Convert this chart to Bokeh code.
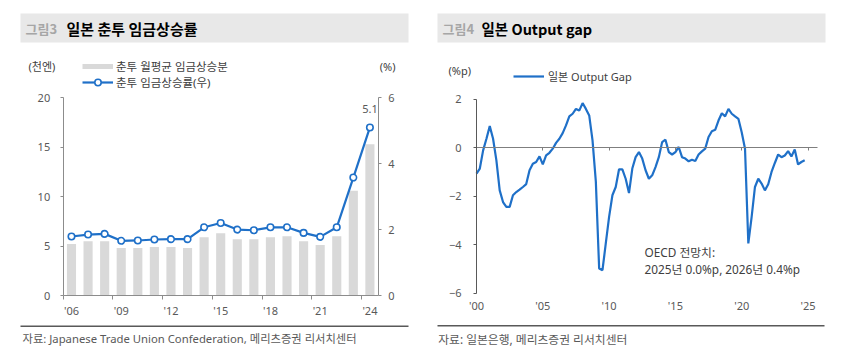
from bokeh.plotting import figure
from bokeh.models import (Range1d, LinearAxis, FixedTicker, Label, BoxAnnotation,
                          Legend, LegendItem, ColumnDataSource)
from bokeh.layouts import row
from bokeh.embed import file_html
from bokeh.resources import INLINE

FONT = "Noto Sans, Noto Sans CJK KR"
FONT_T = "Noto Sans CJK KR"
BLUE = "#1f70c8"
GRAY_BAR = "#d9d9d9"
AXIS = "#8c8c8c"
TXT = "#595959"
DARK = "#404040"

# ---------------- data: left chart (Shunto) ----------------
years = [2006, 2007, 2008, 2009, 2010, 2011, 2012, 2013, 2014, 2015,
         2016, 2017, 2018, 2019, 2020, 2021, 2022, 2023, 2024]
wage_gain = [5.2, 5.5, 5.5, 4.8, 4.8, 4.9, 4.9, 4.8, 5.9, 6.3,
             5.7, 5.7, 5.9, 6.0, 5.5, 5.1, 6.0, 10.6, 15.3]       # 천엔
wage_rate = [1.79, 1.85, 1.87, 1.66, 1.67, 1.70, 1.71, 1.71, 2.07, 2.20,
             2.00, 1.98, 2.07, 2.07, 1.90, 1.78, 2.07, 3.58, 5.10]  # %
left_x_ticks = [2006, 2009, 2012, 2015, 2018, 2021, 2024]
left_x_labels = ["'06", "'09", "'12", "'15", "'18", "'21", "'24"]
left_y_ticks = [0, 5, 10, 15, 20]
right_y_ticks = [0, 2, 4, 6]

# ---------------- data: right chart (output gap, quarterly 2000Q1-2024Q4) ----------------
gap_values = [
    -1.07, -0.86, -0.11, 0.37,   0.89, 0.37, -0.52, -1.76,
    -2.24, -2.44, -2.44, -1.96,  -1.83, -1.73, -1.62, -1.50,
    -0.93, -0.66, -0.59, -0.36,  -0.69, -0.32, -0.21, -0.04,
    0.20, 0.37, 0.60, 0.92,      1.29, 1.40, 1.60, 1.53,
    1.84, 1.60, 1.33, 0.30,      -1.40, -4.98, -5.05, -3.95,
    -2.85, -1.96, -1.62, -0.89,  -0.89, -1.28, -1.87, -0.86,
    -0.39, -0.18, -0.45, -0.93,  -1.28, -1.14, -0.80, -0.39,
    0.23, 0.33, -0.18, -0.28,    -0.18, 0.03, -0.39, -0.45,
    -0.56, -0.50, -0.55, -0.28,  -0.15, -0.04, 0.44, 0.68,
    0.74, 1.12, 1.42, 1.29,      1.60, 1.40, 1.29, 1.19,
    0.64, -0.04, -3.95, -2.85,   -1.62, -1.28, -1.48, -1.76,
    -1.51, -1.00, -0.63, -0.28,  -0.39, -0.32, -0.14, -0.36,
    -0.07, -0.69, -0.59, -0.52]
gap_quarters = [2000 + i / 4 for i in range(len(gap_values))]
gap_x_ticks = [2000, 2005, 2010, 2015, 2020, 2025]
gap_x_labels = ["'00", "'05", "'10", "'15", "'20", "'25"]
gap_y_ticks = [-6, -4, -2, 0, 2]

W, H = 426, 353


def canvas_range(d0, d1, c0, c1, total):
    """Range for a canvas axis of `total` px where data d0 sits at px c0 and d1 at px c1."""
    k = (d1 - d0) / (c1 - c0)
    return Range1d(d0 - c0 * k, d0 + (total - c0) * k)


def y_canvas_range(d_bot, d_top, c_bot, c_top):
    # canvas y grows downward; data y grows upward
    k = (d_top - d_bot) / (c_bot - c_top)
    return Range1d(d_bot - (H - c_bot) * k, d_top + c_top * k)


def style_axis(ax):
    ax.axis_line_color = AXIS
    ax.major_tick_line_color = AXIS
    ax.minor_tick_line_color = None
    ax.major_tick_out = 3
    ax.major_tick_in = 0
    ax.major_label_text_font = FONT
    ax.major_label_text_font_size = "11px"
    ax.major_label_text_color = TXT


def lbl(p, cx, cy, text, size="11px", color=DARK, style="normal", align="left", font=FONT):
    p.add_layout(Label(x=cx, y=H - cy, x_units="screen", y_units="screen", text=text,
                       text_font=font, text_font_size=size, text_color=color,
                       text_font_style=style, text_align=align, text_baseline="middle"))


def box(p, l, r, t, b, color):
    p.add_layout(BoxAnnotation(left=l, right=r, top=H - t, bottom=H - b,
                               left_units="screen", right_units="screen",
                               top_units="screen", bottom_units="screen",
                               fill_color=color, fill_alpha=1.0, line_color=None,
                               level="underlay"))


def base_fig(xr, yr):
    p = figure(width=W, height=H, x_range=xr, y_range=yr, output_backend="svg",
               toolbar_location=None, min_border=0, x_axis_type=None, y_axis_type=None)
    p.outline_line_color = None
    return p


# ======================= left panel =======================
p1 = base_fig(canvas_range(2005.5, 2024.5, 62.7, 377.7, W),
              y_canvas_range(0, 20, 295, 97.3))
p1.extra_y_ranges = {"pct": y_canvas_range(0, 6, 295, 97.3)}

src1 = ColumnDataSource(dict(year=years, gain=wage_gain, rate=wage_rate))

yl = LinearAxis(ticker=FixedTicker(ticks=left_y_ticks), fixed_location=2005.5, bounds=(0, 20))
style_axis(yl)
yl.major_label_standoff = 10
p1.add_layout(yl, "left")

yr = LinearAxis(y_range_name="pct", ticker=FixedTicker(ticks=right_y_ticks),
                fixed_location=2024.5, bounds=(0, 6))
style_axis(yr)
yr.major_label_standoff = 7
p1.add_layout(yr, "right")

xb = LinearAxis(ticker=FixedTicker(ticks=left_x_ticks, minor_ticks=[t - 0.5 for t in left_x_ticks]),
                fixed_location=0, bounds=(2005.5, 2024.5))
style_axis(xb)
xb.major_tick_line_color = None
xb.major_tick_out = 0
xb.minor_tick_line_color = AXIS
xb.minor_tick_out = 4
xb.minor_tick_in = 0
xb.major_label_standoff = 3
xb.major_label_overrides = dict(zip(left_x_ticks, left_x_labels))
p1.add_layout(xb, "below")

p1.vbar(x="year", top="gain", width=0.55, source=src1, fill_color=GRAY_BAR, line_color=None)
ln = p1.line("year", "rate", source=src1, y_range_name="pct", line_color=BLUE, line_width=2.2)
mk = p1.scatter("year", "rate", source=src1, y_range_name="pct", size=6.5,
                fill_color="white", line_color=BLUE, line_width=1.6)
# legend swatch for the bars (thin bar, drawn only in the legend)
bar_key = p1.line(x=years, y=[float("nan")] * len(years), line_color=GRAY_BAR, line_width=5)

p1.add_layout(Label(x=years[-1], y=wage_rate[-1], y_range_name="pct", text=f"{wage_rate[-1]:.1f}",
                    y_offset=18, text_align="center", text_baseline="middle",
                    text_font=FONT, text_font_size="11px", text_color=TXT))

leg1 = Legend(items=[LegendItem(label="춘투 월평균 임금상승분", renderers=[bar_key]),
                     LegendItem(label="춘투 임금상승률(우)", renderers=[ln, mk])],
              location=(82, H - 90), glyph_width=31, glyph_height=16, label_height=16,
              spacing=0, padding=0, margin=0, label_standoff=3, border_line_color=None,
              background_fill_alpha=0, label_text_font=FONT, label_text_font_size="11.5px",
              label_text_color=DARK)
p1.add_layout(leg1, "center")

box(p1, 20, 408, 13, 42, "#e8e8e8")
box(p1, 20, 408, 325.1, 326.4, "#595959")
lbl(p1, 25, 28, "그림3", size="13px", color="#a6a6a6", style="bold", font=FONT_T)
lbl(p1, 66, 28, "일본 춘투 임금상승률", size="15px", color="#000000", style="bold", font=FONT_T)
lbl(p1, 28, 66, "(천엔)")
lbl(p1, 395, 66, "(%)", align="right")
lbl(p1, 22, 338, "자료: Japanese Trade Union Confederation, 메리츠증권 리서치센터",
    size="11.3px", color=TXT)

# ======================= right panel =======================
p2 = base_fig(canvas_range(2000, 2025, 50, 381.5, W),
              y_canvas_range(-6, 2, 292.7, 98.7))

gy = LinearAxis(ticker=FixedTicker(ticks=gap_y_ticks), fixed_location=2000, bounds=(-6, 2))
style_axis(gy)
gy.axis_line_color = "#595959"
gy.major_tick_line_color = "#595959"
gy.major_label_standoff = 12
p2.add_layout(gy, "left")

# zero line with its tick marks
gz = LinearAxis(ticker=FixedTicker(ticks=gap_x_ticks), fixed_location=0, bounds=(2000, 2025.73))
style_axis(gz)
gz.axis_line_color = "#7f7f7f"
gz.major_tick_line_color = "#7f7f7f"
gz.major_label_text_color = None
p2.add_layout(gz, "below")

# year labels along the bottom
gx = LinearAxis(ticker=FixedTicker(ticks=gap_x_ticks), fixed_location=-6, bounds=(2000, 2025.73))
style_axis(gx)
gx.axis_line_color = None
gx.major_tick_line_color = None
gx.major_tick_out = 0
gx.major_label_standoff = 5
gx.major_label_overrides = dict(zip(gap_x_ticks, gap_x_labels))
p2.add_layout(gx, "below")

src2 = ColumnDataSource(dict(t=gap_quarters, gap=gap_values))
gl = p2.line("t", "gap", source=src2, line_color=BLUE, line_width=2.2)

leg2 = Legend(items=[LegendItem(label="일본 Output Gap", renderers=[gl])],
              location=(87, H - 84), glyph_width=31, glyph_height=16, label_height=16,
              padding=0, margin=0, label_standoff=4, border_line_color=None,
              background_fill_alpha=0, label_text_font=FONT, label_text_font_size="11px",
              label_text_color=DARK)
p2.add_layout(leg2, "center")

box(p2, 11, 399, 13, 42, "#e8e8e8")
box(p2, 11, 398, 324.6, 325.9, "#595959")
lbl(p2, 16, 28, "그림4", size="13px", color="#a6a6a6", style="bold", font=FONT_T)
lbl(p2, 55, 28, "일본 Output gap", size="14.5px", color="#000000", style="bold", font=FONT_T)
lbl(p2, 22, 70, "(%p)")
lbl(p2, 218, 251.7, "OECD 전망치:", size="11.8px")
lbl(p2, 218, 268.3, "2025년 0.0%p, 2026년 0.4%p", size="11.8px")
lbl(p2, 11.7, 338, "자료: 일본은행, 메리츠증권 리서치센터", size="11.8px", color=TXT)

layout = row(p1, p2)
open("out.html", "w").write(file_html(layout, INLINE))
